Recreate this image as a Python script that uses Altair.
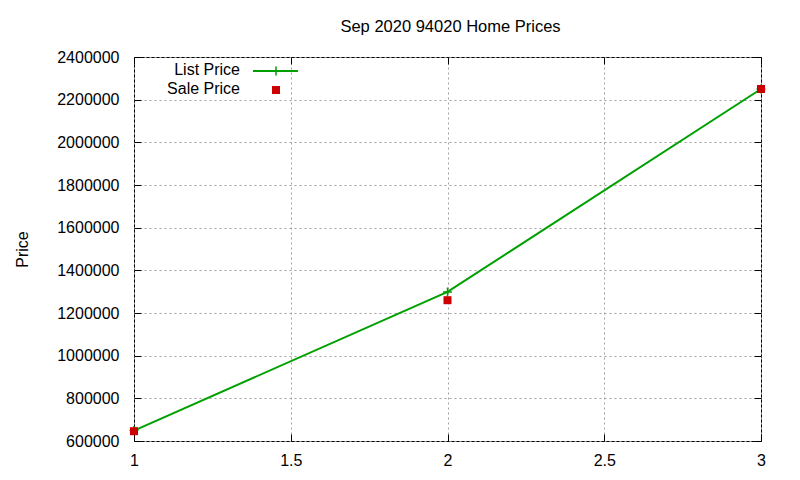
import altair as alt
import pandas as pd

# ---- data ----
x_values = [1, 2, 3]
list_price = [649000, 1299000, 2250000]
sale_price = [646000, 1260000, 2250000]
series_names = ["List Price", "Sale Price"]
series_colors = ["#00a000", "#cc0000"]
title_text = "Sep 2020 94020 Home Prices"
y_title = "Price"
x_ticks = [1, 1.5, 2, 2.5, 3]
y_ticks = [600000, 800000, 1000000, 1200000, 1400000, 1600000,
           1800000, 2000000, 2200000, 2400000]

df_list = pd.DataFrame({"x": x_values, "price": list_price})
df_sale = pd.DataFrame({"x": x_values, "price": sale_price})
legend_df = pd.DataFrame({"name": series_names, "color": series_colors})

FONT = "Liberation Sans"
GREEN, RED = series_colors
PLUS = "M-1,0L1,0M0,-1L0,1"

x_scale = alt.Scale(domain=[1, 3], nice=False, zero=False)
y_scale = alt.Scale(domain=[600000, 2400000], nice=False, zero=False)

grid_kw = dict(gridColor="#a0a0a0", gridDash=[2, 3], gridWidth=1, gridOpacity=1)
tick_kw = dict(ticks=True, tickSize=7, tickColor="black", tickWidth=1, domain=False,
               offset=-7, labelFlush=False)

x_bottom = alt.Axis(orient="bottom", values=x_ticks, format="~g", grid=True, **grid_kw,
                    **tick_kw, labelPadding=11, labelFont=FONT, labelFontSize=16,
                    labelColor="black", title=None)
y_left = alt.Axis(orient="left", values=y_ticks, format="d", grid=True, **grid_kw,
                  **tick_kw, labelPadding=15, labelFont=FONT, labelFontSize=16,
                  labelColor="black", title=y_title, titleFont=FONT, titleFontSize=16,
                  titleFontWeight="normal", titleColor="black", titleX=-119, titleY=192,
                  titleAlign="center", titleBaseline="middle")
x_top = alt.Axis(orient="top", values=x_ticks, grid=False, labels=False, title=None, **tick_kw)
y_right = alt.Axis(orient="right", values=y_ticks, grid=False, labels=False, title=None, **tick_kw)

line = alt.Chart(df_list).mark_line(color=GREEN, strokeWidth=2).encode(
    x=alt.X("x:Q", scale=x_scale, axis=x_bottom),
    y=alt.Y("price:Q", scale=y_scale, axis=y_left),
)
plus = alt.Chart(df_list).mark_point(shape=PLUS, size=81, filled=False, color=GREEN,
                                     strokeWidth=1.5, opacity=1).encode(
    x=alt.X("x:Q", axis=x_top),
    y=alt.Y("price:Q", axis=y_right),
)
squares = alt.Chart(df_sale).mark_square(size=64, color=RED, opacity=1).encode(
    x=alt.X("x:Q", axis=None),
    y=alt.Y("price:Q", axis=None),
)

# ---- custom key (labels left of symbols, as in the reference) ----
def key_text(name, y):
    return alt.Chart(legend_df).transform_filter(alt.datum.name == name).mark_text(
        align="right", baseline="middle", font=FONT, fontSize=16, color="black"
    ).encode(text="name:N", x=alt.value(106), y=alt.value(y))

key1 = key_text(series_names[0], 13)
key2 = key_text(series_names[1], 32)
key_line = alt.Chart(legend_df).transform_filter(alt.datum.name == series_names[0]).mark_rule(
    color=GREEN, strokeWidth=2).encode(x=alt.value(119), x2=alt.value(164), y=alt.value(14))
key_plus = alt.Chart(legend_df).transform_filter(alt.datum.name == series_names[0]).mark_point(
    shape=PLUS, size=81, filled=False, color=GREEN, strokeWidth=1.5, opacity=1
).encode(x=alt.value(142), y=alt.value(14))
key_sq = alt.Chart(legend_df).transform_filter(alt.datum.name == series_names[1]).mark_square(
    size=64, color=RED, opacity=1).encode(x=alt.value(142), y=alt.value(33))

chart = alt.layer(line, plus, squares, key1, key2, key_line, key_plus, key_sq).resolve_axis(
    x="independent", y="independent"
).properties(
    width=627, height=384,
    autosize=alt.AutoSizeParams(type="none"),
    padding={"left": 126, "top": 49, "right": 30, "bottom": 30},
    title=alt.Title(title_text, font=FONT, fontSize=16.5, fontWeight="normal", color="black",
                    anchor="middle", baseline="alphabetic", offset=26, dx=3, dy=25,
                    frame="group"),
    background="white",
).configure_view(stroke="black", strokeWidth=1)

chart.save("out.html", embed_options={"renderer": "svg", "actions": False})
